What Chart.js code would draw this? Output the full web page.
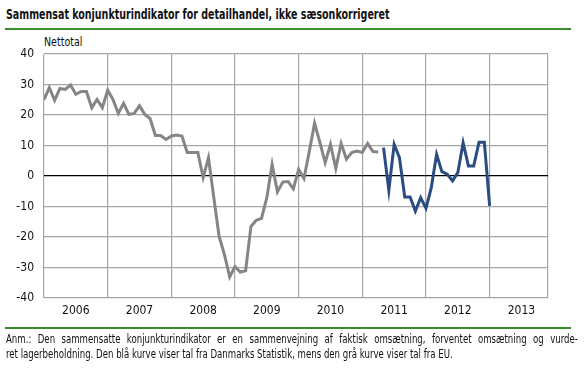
<!DOCTYPE html>
<html>
<head>
<meta charset="utf-8">
<script src="https://cdn.jsdelivr.net/npm/chart.js@4"></script>
<style>
  html, body { margin: 0; padding: 0; background: #fff; }
  body { width: 584px; height: 371px; position: relative; overflow: hidden;
         font-family: "Liberation Sans Narrow", "DejaVu Sans Condensed", sans-serif; color: #111; }
  #title { position: absolute; left: 6px; top: 6px; font-size: 14px; font-weight: bold; white-space: nowrap;
           transform: scaleX(0.755); transform-origin: left top; }
  .rule { position: absolute; left: 5px; width: 566px; height: 2px; background: #3a8c2c; }
  #unit { position: absolute; left: 44px; top: 35px; font-size: 12px; white-space: nowrap;
          transform: scaleX(0.88); transform-origin: left top; }
  #note { position: absolute; left: 6px; top: 332px; width: 689px; font-size: 11.5px; line-height: 15px;
          transform: scaleX(0.83); transform-origin: left top; }
  #note .l1 { text-align: justify; text-align-last: justify; white-space: nowrap; }
  #note .l2 { white-space: nowrap; }
  #wrap { position: absolute; left: 0; top: 0; width: 584px; height: 371px; }
</style>
</head>
<body>
<div id="title">Sammensat konjunkturindikator for detailhandel, ikke sæsonkorrigeret</div>
<div class="rule" style="top:28px"></div>
<div id="unit">Nettotal</div>
<div id="wrap"><canvas id="c"></canvas></div>
<div class="rule" style="top:327px"></div>
<div id="note">
  <div class="l1">Anm.: Den sammensatte konjunkturindikator er en sammenvejning af faktisk omsætning, forventet omsætning og vurde-</div>
  <div class="l2">ret lagerbeholdning. Den blå kurve viser tal fra Danmarks Statistik, mens den grå kurve viser tal fra EU.</div>
</div>
<script>
const years = ['2006', '2007', '2008', '2009', '2010', '2011', '2012', '2013'];

// EU-tal, månedlig fra januar 2006
const grayValues = [
  25, 29, 24.8, 28.7, 28.4, 29.8, 26.8, 27.7, 27.7, 22.4, 25.1, 22.4,
  28.1, 25.1, 20.5, 23.8, 20.2, 20.5, 23, 20.2, 18.8, 13.3, 13.3, 12,
  13.1, 13.4, 13.1, 7.7, 7.7, 7.7, -0.5, 6, -7, -19.7, -25.7, -33.1,
  -29.7, -31.5, -31.1, -16.6, -14.5, -13.9, -7.1, 3.8, -5.2, -2, -1.8, -4.2,
  2.2, -0.8, 8, 17.3, 11, 4.4, 10.4, 2.5, 10.7, 5.5, 7.7, 8.2,
  7.7, 10.7, 8, 7.9
];

// Danmarks Statistik, månedlig fra maj 2011
const blueStart = 64;
const blueValues = [
  9.3, -4.7, 10.4, 6, -6.9, -6.9, -11.5, -7.1,
  -10.6, -3.8, 7.1, 1.4, 0.6, -1.6, 1.1, 10.9, 3.3, 3.3, 11.1, 11.1,
  -9.8
];

const yTicks = [-40, -30, -20, -10, 0, 10, 20, 30, 40];

const font = '"Liberation Sans Narrow", "DejaVu Sans Condensed", sans-serif';
const gridGray = '#a6a6a6';
const lastMonth = years.length * 12 - 1;

new Chart(document.getElementById('c'), {
  type: 'line',
  data: {
    datasets: [{
      data: grayValues.map((v, i) => ({ x: i, y: v })),
      borderColor: '#858585',
      borderWidth: 3,
      pointRadius: 0,
      tension: 0
    }, {
      data: blueValues.map((v, i) => ({ x: blueStart + i, y: v })),
      borderColor: '#2b4c82',
      borderWidth: 3,
      pointRadius: 0,
      tension: 0
    }]
  },
  options: {
    responsive: true,
    maintainAspectRatio: false,
    animation: false,
    layout: { padding: { top: 54, right: 36, bottom: 51, left: 0 } },
    plugins: { legend: { display: false }, tooltip: { enabled: false } },
    scales: {
      x: {
        type: 'linear',
        min: 0, max: lastMonth,
        afterBuildTicks: s => { s.ticks = years.map((y, i) => ({ value: i * 12 })).concat([{ value: lastMonth }]); },
        afterFit: s => { s.height = 0; },
        grid: { color: gridGray, lineWidth: 1.2, drawTicks: false },
        border: { display: false },
        ticks: { display: false }
      },
      xYears: {
        type: 'linear',
        position: 'bottom',
        min: 0, max: lastMonth,
        afterBuildTicks: s => { s.ticks = years.map((y, i) => ({ value: i * 12 + 6 })); },
        afterFit: s => { s.height = 22; },
        grid: { display: false, drawTicks: false },
        border: { display: false },
        ticks: {
          padding: 6,
          maxRotation: 0,
          autoSkip: false,
          color: '#111',
          font: { family: font, size: 12 },
          callback: v => years[(v - 6) / 12]
        }
      },
      y: {
        min: -40, max: 40,
        afterBuildTicks: s => { s.ticks = yTicks.map(v => ({ value: v })); },
        afterFit: s => { s.width = 44; },
        grid: {
          drawTicks: false,
          lineWidth: 1.2,
          color: ctx => ctx.tick && ctx.tick.value === 0 ? '#000' : gridGray
        },
        border: { display: false },
        ticks: {
          padding: 10,
          color: '#111',
          font: { family: font, size: 12 }
        }
      }
    }
  }
});
</script>
</body>
</html>
